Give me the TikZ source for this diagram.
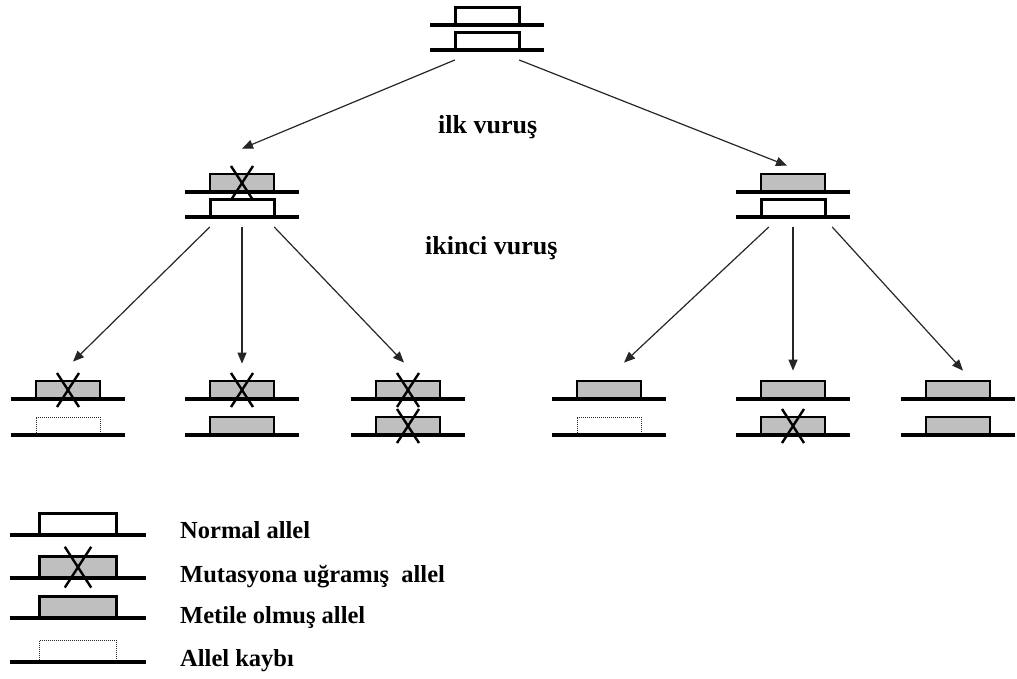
\documentclass[tikz,border=0pt]{standalone}
\usepackage{fontspec}
\setmainfont{Liberation Serif}
\usetikzlibrary{arrows.meta,calc}
\tikzset{
    chrom/.style={line width=3.5pt},
    normbox/.style={draw,line width=3pt,fill=white},
    metbox/.style={draw,line width=2.4pt,fill=gray!50},
    lossbox/.style={draw,line width=1pt,densely dotted,black!85},
    mutx/.style={line width=2.4pt},
    arr/.style={-{Triangle[length=11pt,width=9pt]},line width=1.2pt,black!85},
    pairnode/.style={inner sep=0pt,minimum width=64pt,anchor=south},
    lbl/.style={font=\fontsize{26}{30}\selectfont\bfseries,anchor=base west,inner sep=0pt},
    leg/.style={font=\fontsize{24.5}{28}\selectfont\bfseries,anchor=base west,inner sep=0pt},
    pics/normal/.style={code={
        \draw[normbox] (-32,0) rectangle (32,-18);
        \draw[chrom] (-57,0) -- (57,0);}},
    pics/metil/.style={code={
        \draw[metbox] (-32,0) rectangle (32,-18);
        \draw[chrom] (-57,0) -- (57,0);}},
    pics/mutant/.style={code={
        \draw[metbox] (-32,0) rectangle (32,-18);
        \draw[chrom] (-57,0) -- (57,0);
        \draw[mutx] (-11,-26) -- (11,8) (11,-26) -- (-11,8);}},
    pics/kayip/.style={code={
        \draw[lossbox] (-32,0) -- (-32,-18) -- (32,-18) -- (32,0);
        \draw[chrom] (-57,0) -- (57,0);}},
}
% name, x, lower line y, gap, upper allele, lower allele
\newcommand{\allelpair}[6]{%
  \node[pairnode,minimum height=#4pt+18pt] (#1) at (#2,#3) {};
  \pic at (#1.south) {#6};
  \pic at ([yshift=#4pt]#1.south) {#5};
}

\begin{document}
\begin{tikzpicture}[x=1pt,y=-1pt]
  \useasboundingbox (0,0) rectangle (1017,678);

  %baslangic
  \allelpair{T}{487}{50}{25}{normal}{normal}
  %ilk vurus
  \allelpair{A}{242}{217}{25}{mutant}{normal}
  \allelpair{B}{793}{217}{25}{metil}{normal}
  %ikinci vurus
  \allelpair{A1}{68}{435}{36}{mutant}{kayip}
  \allelpair{A2}{242}{435}{36}{mutant}{metil}
  \allelpair{A3}{408}{435}{36}{mutant}{mutant}
  \allelpair{B1}{609}{435}{36}{metil}{kayip}
  \allelpair{B2}{793}{435}{36}{metil}{mutant}
  \allelpair{B3}{958}{435}{36}{metil}{metil}

  \node[lbl] (hit1) at (438,133) {ilk vuruş};
  \node[lbl] (hit2) at (425,254) {ikinci vuruş};

  \draw[arr] ([yshift=-10pt]T.south west) -- ([yshift=25pt]A.north);
  \draw[arr] ([yshift=-10pt]T.south east) -- ([xshift=-6pt,yshift=8pt]B.north);

  \draw[arr] ([yshift=-10pt]A.south west) -- ([xshift=5pt,yshift=19pt]A1.north);
  \draw[arr] ([yshift=-10pt]A.south) -- ([yshift=17pt]A2.north);
  \draw[arr] ([yshift=-10pt]A.south east) -- ([xshift=-4pt,yshift=18pt]A3.north);
  \draw[arr] ([xshift=8pt,yshift=-10pt]B.south west) -- ([xshift=15pt,yshift=18pt]B1.north);
  \draw[arr] ([yshift=-10pt]B.south) -- ([yshift=10pt]B2.north);
  \draw[arr] ([xshift=7pt,yshift=-10pt]B.south east) -- ([xshift=5pt,yshift=10pt]B3.north);

  %lejant
  \pic[scale=1.2] at (78,535) {normal};
  \pic[scale=1.2] at (78,578) {mutant};
  \pic[scale=1.2] at (78,618) {metil};
  \pic[scale=1.2] at (78,662) {kayip};
  \node[leg] (leg1) at (180,538) {Normal allel};
  \node[leg] (leg2) at (180,582) {Mutasyona uğramış\ \ allel};
  \node[leg] (leg3) at (180,623) {Metile olmuş allel};
  \node[leg] (leg4) at (180,666) {Allel kaybı};
\end{tikzpicture}
\end{document}
